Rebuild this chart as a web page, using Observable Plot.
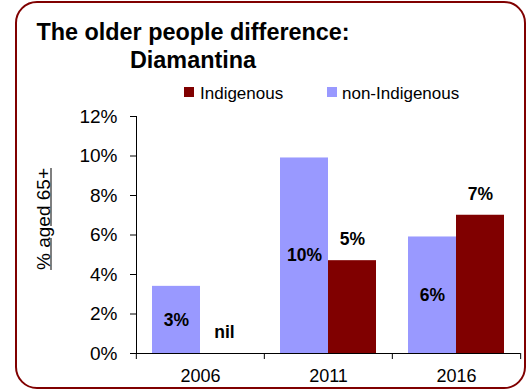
<!DOCTYPE html>
<html>
<head>
<meta charset="utf-8">
<script src="https://cdn.jsdelivr.net/npm/d3@7"></script>
<script src="https://cdn.jsdelivr.net/npm/@observablehq/plot@0.6"></script>
<style>
  html, body { margin: 0; padding: 0; background: #fff; }
  #wrap { position: relative; width: 531px; height: 390px; overflow: hidden; font-family: "Liberation Sans", Arial, sans-serif; }
  #border { position: absolute; left: 15px; top: 1px; width: 511px; height: 388px; box-sizing: border-box; border: 2px solid #800000; border-radius: 22px; }
  #title { position: absolute; left: 30px; top: 19px; width: 326px; text-align: center; font-size: 23.4px; font-weight: bold; line-height: 27.6px; color: #000; white-space: nowrap; }
  .leg { position: absolute; top: 84.6px; font-size: 17px; line-height: 17px; color: #000; white-space: nowrap; }
  .sw { position: absolute; width: 10px; height: 10px; top: 87px; }
  #ylab { position: absolute; left: 43px; top: 219px; transform: translate(-50%, -50%) rotate(-90deg); font-size: 19px; line-height: 19px; text-decoration: underline; white-space: nowrap; }
  #chart { position: absolute; left: 0; top: 0; }
</style>
</head>
<body>
<div id="wrap">
  <div id="border"></div>
  <div id="title">The older people difference:<br>Diamantina</div>
  <div class="sw" style="left:184px; background:#800000"></div>
  <div class="leg" style="left:200px">Indigenous</div>
  <div class="sw" style="left:327px; background:#9999FF"></div>
  <div class="leg" style="left:342px">non-Indigenous</div>
  <div id="ylab">% aged 65+</div>
  <div id="chart"></div>
</div>
<script>
const years = ["2006", "2011", "2016"];
const series = ["non-Indigenous", "Indigenous"];
const nonIndigenous = [3.4, 9.9, 5.9];
const indigenous = [0, 4.7, 7.0];
const nonIndigenousLabels = ["3%", "10%", "6%"];
const indigenousLabels = ["nil", "5%", "7%"];
const yTicks = [0, 2, 4, 6, 8, 10, 12];
const colors = ["#9999FF", "#800000"];

const nonData = years.map((y, i) => ({year: y, series: "non-Indigenous", value: nonIndigenous[i], label: nonIndigenousLabels[i]}));
const indData = years.map((y, i) => ({year: y, series: "Indigenous", value: indigenous[i], label: indigenousLabels[i]}));
const data = nonData.concat(indData);

const W = 531, H = 390, mL = 135, mR = 11, mT = 116, mB = 37;
const half = (W - mL - mR) / years.length / 2;
const font = "'Liberation Sans', Arial, sans-serif";

const chart = Plot.plot({
  width: W,
  height: H,
  marginLeft: mL,
  marginRight: mR,
  marginTop: mT,
  marginBottom: mB,
  style: {fontFamily: font, color: "#000", background: "transparent"},
  fx: {domain: years, padding: 0, label: null},
  x: {domain: series, paddingInner: 0, paddingOuter: 0.31, axis: null},
  y: {domain: [0, 12], label: null},
  color: {domain: series, range: colors},
  marks: [
    Plot.barY(data, {fx: "year", x: "series", y: "value", fill: "series"}),
    Plot.ruleY([0], {stroke: "#000", strokeWidth: 1}),
    Plot.frame({anchor: "left", facetAnchor: "left", stroke: "#000"}),
    Plot.axisY({ticks: yTicks, tickFormat: d => d + "%", tickSize: 6, tickPadding: 13, fontSize: 19, label: null, stroke: "#000", color: "#000"}),
    Plot.axisFx({anchor: "bottom", tickSize: 0, tickPadding: 16, fontSize: 18, label: null, color: "#000"}),
    Plot.axisFx({anchor: "bottom", tickSize: 6, tickFormat: () => "", dx: -half, label: null, stroke: "#000"}),
    Plot.axisFx({anchor: "bottom", ticks: [years[years.length - 1]], tickSize: 6, tickFormat: () => "", dx: half, label: null, stroke: "#000"}),
    Plot.text(nonData, {fx: "year", x: "series", y: d => d.value / 2, text: "label", fontWeight: "bold", fontSize: 17.5, fill: "#000"}),
    Plot.text(indData, {fx: "year", x: "series", y: "value", dy: -21, text: "label", fontWeight: "bold", fontSize: 17.5, fill: "#000"})
  ]
});
document.getElementById("chart").appendChild(chart);
</script>
</body>
</html>
